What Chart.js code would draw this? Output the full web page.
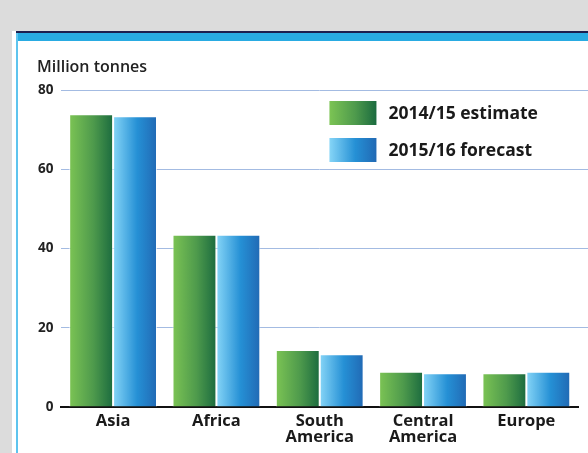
<!DOCTYPE html>
<html>
<head>
<meta charset="utf-8">
<script src="https://cdn.jsdelivr.net/npm/chart.js@4.4.1/dist/chart.umd.min.js"></script>
<style>
  html, body { margin: 0; padding: 0; }
  body { width: 588px; height: 453px; background: #dcdcdc; position: relative; overflow: hidden; }
  .panel { position: absolute; left: 12px; top: 31px; right: 0; bottom: 0; background: #fff; }
  .topline { position: absolute; left: 4px; right: 0; top: 0; height: 2px; background: #1d1f4f; }
  .band { position: absolute; left: 4px; right: 0; top: 2px; height: 8px; background: #29abe2; }
  .sideline { position: absolute; left: 4px; top: 2px; bottom: 0; width: 2px; background: #5ec4ee; }
  #wrap { position: absolute; left: 19px; top: 41px; width: 569px; height: 412px; }
</style>
</head>
<body>
<div class="panel">
  <div class="topline"></div>
  <div class="band"></div>
  <div class="sideline"></div>
</div>
<div id="wrap"><canvas id="chart"></canvas></div>
<script>
const regions = [["Asia"], ["Africa"], ["South", "America"], ["Central", "America"], ["Europe"]];
const seriesNames = ["2014/15 estimate", "2015/16 forecast"];
const estimate1415 = [73.9, 43.5, 14.4, 8.9, 8.5];
const forecast1516 = [73.4, 43.5, 13.3, 8.5, 8.9];
const yTicks = [0, 20, 40, 60, 80];
const unitLabel = "Million tonnes";

// gradient stops, light on the left, dark on the right
const greenStops = ["#7cc454", "#4e9a4c", "#1b6b3f"];
const blueStops = ["#86d5f7", "#2590d5", "#2169b4"];

const catPct = 0.85;
const barPct = 1.0;
const font = "'Open Sans', sans-serif";

function hGradient(c, x0, x1, stops) {
  const g = c.createLinearGradient(x0, 0, x1, 0);
  g.addColorStop(0, stops[0]);
  g.addColorStop(0.55, stops[1]);
  g.addColorStop(1, stops[2]);
  return g;
}

// each bar gets its own left-to-right gradient
function barFill(stops) {
  return (ctx) => {
    const chart = ctx.chart;
    const xs = chart.scales.x;
    if (!chart.chartArea || !xs) return stops[1];
    const center = xs.getPixelForValue(ctx.dataIndex);
    const catW = xs.width / regions.length;
    const pair = catW * catPct;
    const w = pair / 2 * barPct;
    const left = ctx.datasetIndex === 0 ? center - pair / 2 : center;
    return hGradient(chart.ctx, left, left + w, stops);
  };
}

// grid lines run on past the x axis to the panel edge
const gridTail = {
  id: "gridTail",
  beforeDatasetsDraw(chart) {
    const c = chart.ctx;
    const ys = chart.scales.y;
    c.save();
    c.strokeStyle = "#a3bbe2";
    c.lineWidth = 1;
    ys.ticks.forEach((t) => {
      if (t.value === 0) return;
      // same pixel snapping as the scale's own grid lines
      const y = Math.round(ys.getPixelForValue(t.value) - 0.5) + 0.5;
      c.beginPath();
      c.moveTo(chart.chartArea.right, y);
      c.lineTo(chart.width, y);
      c.stroke();
    });
    c.restore();
  }
};

// unit label plus legend box with gradient swatches
const boxLegend = {
  id: "boxLegend",
  afterDraw(chart) {
    const c = chart.ctx;
    const area = chart.chartArea;
    c.save();
    c.fillStyle = "#222";
    c.font = "600 16px " + font;
    c.textBaseline = "middle";
    c.fillText(unitLabel, 18, 26);

    const x = area.left + 268;
    const rows = [
      { y: area.top + 11, stops: greenStops, text: seriesNames[0] },
      { y: area.top + 48, stops: blueStops, text: seriesNames[1] }
    ];
    rows.forEach((r) => {
      c.fillStyle = hGradient(c, x, x + 47, r.stops);
      c.fillRect(x, r.y, 47, 24);
      c.fillStyle = "#1a1a1a";
      c.font = "bold 17.5px " + font;
      c.fillText(r.text, x + 59, r.y + 13);
    });
    c.restore();
  }
};

new Chart(document.getElementById("chart"), {
  type: "bar",
  data: {
    labels: regions,
    datasets: [
      {
        label: seriesNames[0],
        data: estimate1415,
        backgroundColor: barFill(greenStops),
        borderColor: "rgba(255,255,255,0.7)",
        borderWidth: 1,
        categoryPercentage: catPct,
        barPercentage: barPct
      },
      {
        label: seriesNames[1],
        data: forecast1516,
        backgroundColor: barFill(blueStops),
        borderColor: "rgba(255,255,255,0.7)",
        borderWidth: 1,
        categoryPercentage: catPct,
        barPercentage: barPct
      }
    ]
  },
  options: {
    responsive: true,
    maintainAspectRatio: false,
    animation: false,
    layout: { padding: { left: 11, right: 10, top: 49, bottom: 9 } },
    plugins: {
      legend: { display: false },
      tooltip: { enabled: false }
    },
    scales: {
      x: {
        grid: { display: false },
        border: { color: "#111", width: 2 },
        ticks: {
          color: "#1a1a1a",
          padding: -2,
          font: { family: font, size: 16.5, weight: "bold", lineHeight: 1.0 }
        }
      },
      y: {
        min: 0,
        max: 80,
        afterBuildTicks: (axis) => { axis.ticks = yTicks.map((v) => ({ value: v })); },
        grid: { color: "#a3bbe2", lineWidth: 1, drawTicks: false },
        border: { display: false },
        ticks: {
          color: "#222",
          padding: 8,
          font: { family: font, size: 13.5, weight: "bold" }
        }
      }
    }
  },
  plugins: [gridTail, boxLegend]
});
</script>
</body>
</html>
